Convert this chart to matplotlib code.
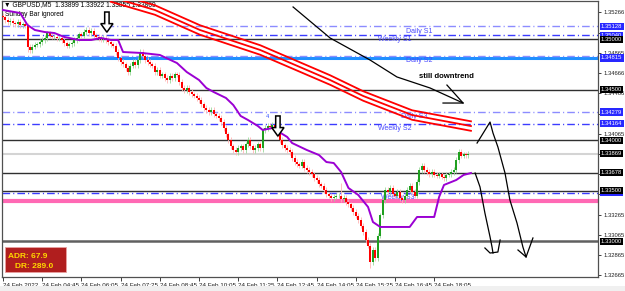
import numpy as np
import matplotlib.pyplot as plt
from matplotlib.patches import FancyArrow, Rectangle

plt.rcParams['font.family'] = ['Liberation Sans', 'DejaVu Sans']

# M5 closes, one per bar (bar 0 = 24 Feb 03:25)
closes = [
    1.35221, 1.35191, 1.35171, 1.35181, 1.35161, 1.35151, 1.35171, 1.35141, 1.35151, 1.35132,
    1.34924, 1.34894, 1.34924, 1.34944, 1.34953, 1.34973, 1.34993, 1.35013, 1.35062, 1.35033,
    1.35023, 1.35023, 1.35013, 1.35013, 1.34993, 1.34963, 1.34934, 1.34953, 1.34963, 1.34993,
    1.35013, 1.35052, 1.35033, 1.35072, 1.35092, 1.35062, 1.35082, 1.35042, 1.35023, 1.35013,
    1.35003, 1.35013, 1.34993, 1.34973, 1.34953, 1.34934, 1.34874, 1.34815, 1.34775, 1.34755,
    1.34716, 1.34676, 1.34736, 1.34775, 1.34745, 1.34795, 1.34874, 1.34835, 1.34795, 1.34775,
    1.34755, 1.34736, 1.34676, 1.34696, 1.34637, 1.34656, 1.34617, 1.34597, 1.34637, 1.34617,
    1.34656, 1.34647, 1.34577, 1.34518, 1.34498, 1.34518, 1.34478, 1.34458, 1.34439, 1.34419,
    1.34399, 1.34359, 1.34320, 1.34300, 1.34280, 1.34300, 1.34260, 1.34241, 1.34221, 1.34181,
    1.34122, 1.34062, 1.34003, 1.33943, 1.33904, 1.33884, 1.33924, 1.33943, 1.33904, 1.33963,
    1.34003, 1.33943, 1.33904, 1.33924, 1.33963, 1.33924, 1.34102, 1.34122, 1.34142, 1.34132,
    1.34152, 1.34122, 1.34062, 1.34003, 1.33953, 1.33924, 1.33904, 1.33884, 1.33825, 1.33785,
    1.33765, 1.33746, 1.33785, 1.33726, 1.33706, 1.33686, 1.33666, 1.33627, 1.33607, 1.33567,
    1.33548, 1.33508, 1.33468, 1.33449, 1.33429, 1.33439, 1.33449, 1.33449, 1.33419, 1.33429,
    1.33389, 1.33369, 1.33330, 1.33290, 1.33251, 1.33211, 1.33152, 1.33092, 1.33013, 1.32954,
    1.32795, 1.32914, 1.32835, 1.33053, 1.33260, 1.33409, 1.33508, 1.33488, 1.33528, 1.33468,
    1.33449, 1.33488, 1.33429, 1.33409, 1.33449, 1.33508, 1.33548, 1.33488, 1.33449, 1.33587,
    1.33706, 1.33746, 1.33706, 1.33686, 1.33666, 1.33686, 1.33657, 1.33647, 1.33666, 1.33637,
    1.33627, 1.33657, 1.33666, 1.33686, 1.33706, 1.33805, 1.33884, 1.33845, 1.33864, 1.33854,
    1.33869,
]
spike_high = {106: 1.34122, 138: 1.33577}
spike_low = {10: 1.34875, 106: 1.33880, 150: 1.32736}

# purple moving line, read at a few bars
ma_bars = [0, 7, 10, 13, 17, 21, 25, 31, 36, 40, 44, 47, 49, 57, 64, 71, 75, 80, 83, 86,
           91, 94, 97, 100, 104, 106, 110, 116, 118, 124, 129, 132, 135, 138, 141, 145,
           149, 151, 154, 166, 169, 176, 178, 180, 185, 188, 191]
ma_vals = [1.35290, 1.35260, 1.35141, 1.35092, 1.35072, 1.35062, 1.35023, 1.34993, 1.34993,
           1.35013, 1.34993, 1.34993, 1.34874, 1.34864, 1.34845, 1.34765, 1.34676, 1.34597,
           1.34518, 1.34478, 1.34419, 1.34349, 1.34241, 1.34201, 1.34142, 1.34102, 1.34122,
           1.34033, 1.33973, 1.33904, 1.33854, 1.33785, 1.33775, 1.33686, 1.33528, 1.33459,
           1.33340, 1.33191, 1.33142, 1.33142, 1.33241, 1.33241, 1.33439, 1.33558, 1.33607,
           1.33657, 1.33676]

# red channel (middle line) and its half width
band_bars = [44, 62, 80.4, 105, 133.5, 147, 167, 191]
band_mid = [1.35419, 1.35290, 1.35092, 1.34894, 1.34597, 1.34439, 1.34250, 1.34141]
band_half = 0.00047

# levels
black_levels = [1.35000, 1.34500, 1.34000, 1.33678, 1.33500]
level_1_33 = 1.33000
bid = 1.33869
pink_level = 1.33399
thick_blue = 1.34810
pivots = {'Daily S1': 1.35128, 'Weekly S1': 1.35040, 'Daily S2': 1.34838,
          'Daily S3': 1.34279, 'Weekly S2': 1.34164, 'Weekly S3': 1.33480}
pivot_text_bar = {'Daily S1': 170, 'Weekly S1': 160, 'Daily S2': 170,
                  'Daily S3': 168, 'Weekly S2': 160, 'Weekly S3': 161}

price_ticks = [1.32665, 1.32865, 1.33065, 1.33265, 1.33465, 1.33665, 1.33865, 1.34065,
               1.34265, 1.34466, 1.34666, 1.34865, 1.35066, 1.35266]
price_tick_labels = ['1.32665', '1.32865', '1.33065', '1.33265', '', '', '', '1.34065',
                     '', '1.34466', '1.34666', '1.34865', '', '1.35266']
time_ticks = [0, 16, 32, 48, 64, 80, 96, 112, 128, 144, 160, 176]
time_labels = ['24 Feb 2022', '24 Feb 04:45', '24 Feb 06:05', '24 Feb 07:25', '24 Feb 08:45',
               '24 Feb 10:05', '24 Feb 11:25', '24 Feb 12:45', '24 Feb 14:05', '24 Feb 15:25',
               '24 Feb 16:45', '24 Feb 18:05']

# hand drawn strokes (bar, price)
trend_x = [118.4, 133.5, 149.8, 160.8, 174.3, 187.8]
trend_y = [1.35320, 1.35013, 1.34795, 1.34627, 1.34518, 1.34369]
trend_head_x = [181.2, 187.8, 179.6]
trend_head_y = [1.34547, 1.34369, 1.34369]
strokeA_x = [193.5, 198.8, 200.0, 202.0, 204.9, 206.9, 209.8, 212.2, 213.5]
strokeA_y = [1.33973, 1.34181, 1.34072, 1.33934, 1.33676, 1.33409, 1.33181, 1.32944, 1.32845]
headA_x = [210.2, 213.5, 216.3]
headA_y = [1.32914, 1.32845, 1.33033]
strokeB_x = [192.7, 194.7, 196.7, 198.8, 199.6, 200.0]
strokeB_y = [1.33676, 1.33538, 1.33280, 1.33043, 1.32944, 1.32884]
hookB_x = [196.7, 198.8, 202.0, 202.9]
hookB_y = [1.32934, 1.32884, 1.32894, 1.33013]

fig = plt.figure(figsize=(6.25, 2.91), dpi=100)
ax = fig.add_axes([2 / 625, 14 / 291, 596 / 625, 276 / 291])
ax.set_xlim(-0.41, 242.86)
ax.set_ylim(1.326467, 1.353791)

dd = (0, (5.5, 2.2, 0.8, 2.2))

# horizontal levels
for lv in black_levels:
    ax.axhline(lv, color='#303030', lw=1.0, zorder=1)
ax.axhline(level_1_33, color='#606060', lw=1.8, zorder=1)
ax.axhline(bid, color='#d4d4d4', lw=1.5, zorder=1)
ax.axhline(pink_level, color='#ff69b4', lw=3.0, zorder=1)
ax.axhline(thick_blue, color='#1e90ff', lw=2.2, zorder=1)
for name, lv in pivots.items():
    c = '#8c8cff' if name.startswith('Daily') else '#3c3cff'
    ax.axhline(lv, color=c, lw=1.0, linestyle=dd, zorder=1)
    ax.text(pivot_text_bar[name], lv - 0.00012, name, color='#4848ff', fontsize=5,
            ha='center', va='top', zorder=2)

# candles
opens = [closes[0] + 0.0001] + closes[:-1]
for i, (o, c) in enumerate(zip(opens, closes)):
    up = c >= o
    body = '#1fa01f' if up else '#ff0000'
    wick = '#9ad89a' if up else '#ffb4b4'
    hi = spike_high.get(i, max(o, c) + 0.00025)
    lo = spike_low.get(i, min(o, c) - 0.00025)
    ax.vlines(i, lo, hi, colors=wick, lw=0.6, zorder=3)
    b0, b1 = min(o, c), max(o, c)
    if b1 - b0 < 0.00004:
        b1 = b0 + 0.00004
    ax.vlines(i, b0, b1, colors=body, lw=1.45, zorder=4)

ax.plot(ma_bars, ma_vals, color='#9b00d3', lw=1.4, zorder=5)

band_mid = np.array(band_mid)
for off in (-band_half, 0, band_half):
    ax.plot(band_bars, band_mid + off, color='#ff0000', lw=1.3, zorder=5)

# hollow arrows
for bx, top in [(42.4, 1.35270), (112.2, 1.34241)]:
    ax.add_patch(FancyArrow(bx, top, 0, -0.00200, width=1.8, head_width=5.0,
                            head_length=0.00085, length_includes_head=True,
                            fill=True, fc='white', ec='black', lw=1.1, zorder=6))
ax.text(107.8, 1.34231, '4', color='#3050ff', fontsize=4, ha='center', va='center', zorder=6)

# hand drawing
for sx, sy in [(trend_x, trend_y), (trend_head_x, trend_head_y), (strokeA_x, strokeA_y),
               (headA_x, headA_y), (strokeB_x, strokeB_y), (hookB_x, hookB_y)]:
    ax.plot(sx, sy, color='black', lw=0.9, zorder=7, solid_joinstyle='round')
ax.text(169.8, 1.34627, 'still downtrend', fontsize=5.6, fontweight='bold',
        ha='left', va='center', zorder=7)

# axes look
for s in ax.spines.values():
    s.set_color('#505050')
    s.set_linewidth(0.9)
ax.yaxis.tick_right()
ax.set_yticks(price_ticks)
ax.set_yticklabels(price_tick_labels)
ax.tick_params(axis='y', length=2, width=0.6, labelsize=4.2, pad=2, colors='#202020')
ax.set_xticks(time_ticks)
ax.set_xticklabels(time_labels)
ax.tick_params(axis='x', length=3, width=0.6, labelsize=4.5, pad=1.5, colors='#202020')
for lbl in ax.get_xticklabels():
    lbl.set_ha('left')

ytr = ax.get_yaxis_transform()
boxed = [(pivots['Weekly S1'], '#2828ff'), (pivots['Daily S1'], '#2828ff'), (1.35000, 'black'),
         (1.34815, '#2828ff'), (1.34500, 'black'), (pivots['Daily S3'], '#2828ff'),
         (pivots['Weekly S2'], '#2828ff'), (1.34000, 'black'), (bid, 'black'),
         (1.33678, 'black'), (pivots['Weekly S3'], '#2828ff'), (1.33500, 'black'),
         (level_1_33, 'black')]
for lv, fc in boxed:
    ax.text(1.005, lv, '%.5f' % lv, transform=ytr, fontsize=4.2, color='white',
            ha='left', va='center', clip_on=False, zorder=8,
            bbox=dict(boxstyle='square,pad=0.2', fc=fc, ec='none'))


def axf(px, py):
    return ((px - 2) / 596, (277 - py) / 276)


ax.text(*axf(4, 5), '\u25bc GBPUSD,M5  1.33899 1.33922 1.33855 1.33869', transform=ax.transAxes,
        fontsize=4.8, ha='left', va='center', zorder=2)
ax.text(*axf(5, 15), 'Sunday Bar ignored', transform=ax.transAxes,
        fontsize=4.8, ha='left', va='center', zorder=2)

ax.add_patch(Rectangle(axf(5, 272), 61 / 596, 25 / 276, transform=ax.transAxes,
                       fc='#b01e1e', ec='#e8a0a0', lw=0.6, zorder=9))
ax.text(*axf(8, 256), 'ADR: 67.9', transform=ax.transAxes, color='#ffd700',
        fontsize=6, fontweight='bold', ha='left', va='center', zorder=10)
ax.text(*axf(15, 266), 'DR: 289.0', transform=ax.transAxes, color='#ffd700',
        fontsize=6, fontweight='bold', ha='left', va='center', zorder=10)

fig.patches.append(Rectangle((0, 0), 1, 5 / 291, transform=fig.transFigure,
                             fc='#f0f0f0', ec='none'))

fig.savefig('out.png', dpi=100)
